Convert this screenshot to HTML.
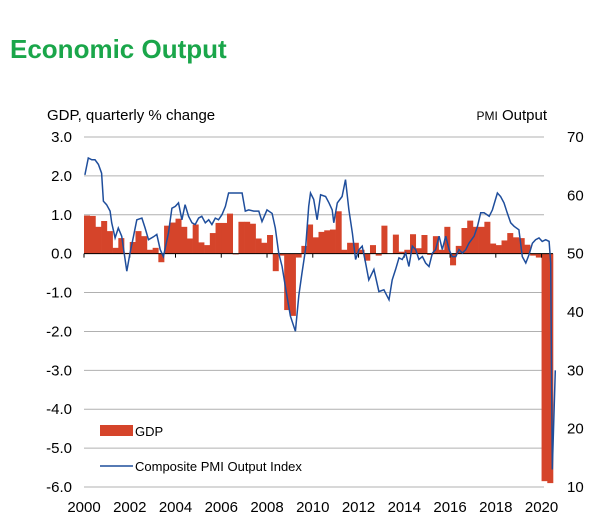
<!DOCTYPE html>
<html><head><meta charset="utf-8"><style>
body{margin:0;background:#fff;font-family:"Liberation Sans",sans-serif;}
svg text{font-family:"Liberation Sans",sans-serif;}
</style></head><body>
<svg id="chart" width="600" height="521" viewBox="0 0 600 521">
<text x="10" y="58" font-size="26" font-weight="bold" fill="#1aa64a">Economic Output</text>
<text x="47" y="120" font-size="15" fill="#000">GDP, quarterly % change</text>
<text x="547" y="120" font-size="15" fill="#000" text-anchor="end"><tspan font-size="12">PMI</tspan> Output</text>
<g id="grid"></g><g id="bars"></g><g id="axes"></g><path id="pmi" fill="none" stroke="#1f4e9c" stroke-width="1.5"/>
<g>
<rect x="100" y="425" width="33" height="11" fill="#d5442a"/>
<text x="135" y="436" font-size="13">GDP</text>
<line x1="100" y1="466" x2="133" y2="466" stroke="#1f4e9c" stroke-width="1.5"/>
<text x="135" y="471" font-size="13">Composite PMI Output Index</text>
</g>
</svg>
<script>
const gdpValues=[0.98,0.97,0.69,0.84,0.58,0.15,0.4,0.02,0.3,0.58,0.45,0.1,0.15,-0.22,0.72,0.8,0.9,0.69,0.39,0.75,0.29,0.22,0.53,0.79,0.79,1.03,-0.02,0.82,0.82,0.77,0.39,0.28,0.48,-0.45,-0.05,-1.45,-1.6,-0.1,0.2,
0.75,0.42,0.56,0.6,0.62,1.09,0.1,0.28,0.28,0.1,-0.18,0.22,-0.05,0.72,0.0,0.49,0.05,0.1,0.5,0.14,0.48,-0.03,0.45,0.1,0.69,-0.3,0.2,0.66,0.85,0.69,0.69,0.82,0.26,0.22,0.34,0.53,0.42,0.4,0.23,-0.05,-0.1,-5.85,-5.9];
const pmiYears=[2000.04,2000.19,2000.34,2000.48,2000.63,2000.77,2000.85,2000.99,2001.14,2001.21,2001.36,2001.50,2001.65,2001.87,2002.01,2002.16,2002.31,2002.53,2002.67,2002.82,2003.04,2003.18,2003.33,2003.47,2003.69,2003.84,2003.99,2004.13,2004.28,2004.42,2004.57,2004.72,2004.86,2005.01,2005.15,2005.30,2005.45,2005.59,2005.74,2005.88,2006.03,2006.18,2006.32,2006.47,2006.69,2006.91,2007.05,2007.20,2007.42,2007.64,2007.78,2008.00,2008.22,2008.36,2008.51,2008.66,2008.80,2009.02,2009.24,2009.39,2009.53,2009.68,2009.82,
2009.90,2010.04,2010.19,2010.34,2010.56,2010.71,2010.85,2010.92,2011.07,2011.28,2011.43,2011.58,2011.73,2011.87,2012.02,2012.16,2012.31,2012.45,2012.67,2012.89,2013.11,2013.33,2013.47,2013.62,2013.77,2013.91,2014.06,2014.20,2014.35,2014.50,2014.64,2014.79,2014.93,2015.08,2015.23,2015.37,2015.52,2015.66,2015.81,2015.96,2016.09,2016.25,2016.39,2016.54,2016.69,2016.83,2017.05,2017.20,2017.34,2017.49,2017.71,2017.85,2018.07,2018.21,2018.36,2018.50,2018.65,2018.80,2019.01,2019.16,2019.31,2019.45,2019.60,2019.74,2019.89,2020.03,2020.18,2020.33,2020.40,2020.47,2020.6];
const pmiValues=[63.5,66.4,66.1,66.1,65.3,63.8,59,58.4,57.3,55.3,52.7,54.4,53,47,50.1,52.9,55.8,56.1,54.4,52.4,52.9,53.3,50.7,49.5,53.5,57.8,58.1,58.7,55.8,58.4,56.4,55.3,55,56.1,56.4,55.3,55.8,55,56.1,55.8,56.7,58.1,60.4,60.4,60.4,60.4,57.3,57.5,57.3,57.3,55.5,57.5,56.9,54.4,50.1,47.8,44.4,39.3,36.7,42.8,46.7,50.7,58.1,
60.4,59.3,55.8,60.1,59.8,58.7,57.5,55.3,58.7,59.8,62.7,57.5,53.5,49,50.7,51.3,48.4,45.5,47.3,43.5,43.8,42.1,45.5,47.3,49.3,49,50.1,47.8,51.3,50.7,49,49.5,48.4,47.8,50.1,50.7,53,50.7,53,50.7,49.5,49.5,50.7,50.1,50.7,51.8,53,54.7,57,57,56.4,57.5,60.4,59.8,58.7,57,55.3,54.7,54.1,49.5,48.4,49.8,51.8,52.4,52.7,52.1,52.4,52.1,48.4,13,30];
const leftTicks=[3,2,1,0,-1,-2,-3,-4,-5,-6];
const rightTicks=[70,60,50,40,30,20,10];
const xTicks=[2000,2002,2004,2006,2008,2010,2012,2014,2016,2018,2020];

const NS="http://www.w3.org/2000/svg";
const X0=84,X1=553,Y0=137,Y1=487,GX=544;
const yL=v=>Y0+(3-v)/9*(Y1-Y0);
const yR=v=>Y0+(70-v)/60*(Y1-Y0);
const qw=(X1-X0)/gdpValues.length;
const xY=yr=>X0+(yr-2000)*4*qw;
function mk(tag,attrs,parent){const e=document.createElementNS(NS,tag);for(const k in attrs)e.setAttribute(k,attrs[k]);parent.appendChild(e);return e;}
const grid=document.getElementById('grid'),axes=document.getElementById('axes'),bars=document.getElementById('bars');
leftTicks.forEach(v=>{
  if(v!==0){const l=mk('line',{x1:X0,x2:GX,y1:yL(v),y2:yL(v),stroke:'#b0b0b0','stroke-width':1},grid);
  
  }
  const t=mk('text',{x:72,y:yL(v)+5,'font-size':15,'text-anchor':'end'},axes);t.textContent=v.toFixed(1);
  
  
});
rightTicks.forEach(v=>{const t=mk('text',{x:567,y:yR(v)+5,'font-size':15},axes);t.textContent=v;
  
  });
gdpValues.forEach((v,i)=>{const y=Math.min(yL(v),yL(0)),h=Math.abs(yL(v)-yL(0));
  const r=mk('rect',{x:X0+i*qw,y:y,width:qw+0.3,height:h,fill:'#d5442a'},bars);
  
  });
const z=mk('line',{x1:X0,x2:X1,y1:yL(0),y2:yL(0),stroke:'#000','stroke-width':1},axes);


xTicks.forEach(yr=>{const x=xY(yr);
  const tk=mk('line',{x1:x,x2:x,y1:yL(0),y2:yL(0)+4,stroke:'#000'},axes);
  
  
  const t=mk('text',{x:x,y:512,'font-size':15,'text-anchor':'middle'},axes);t.textContent=yr;
  
  });
document.getElementById('pmi').setAttribute('d',pmiYears.map((yr,i)=>(i?'L':'M')+xY(yr).toFixed(1)+','+yR(pmiValues[i]).toFixed(1)).join(''));
</script>
</body></html>
